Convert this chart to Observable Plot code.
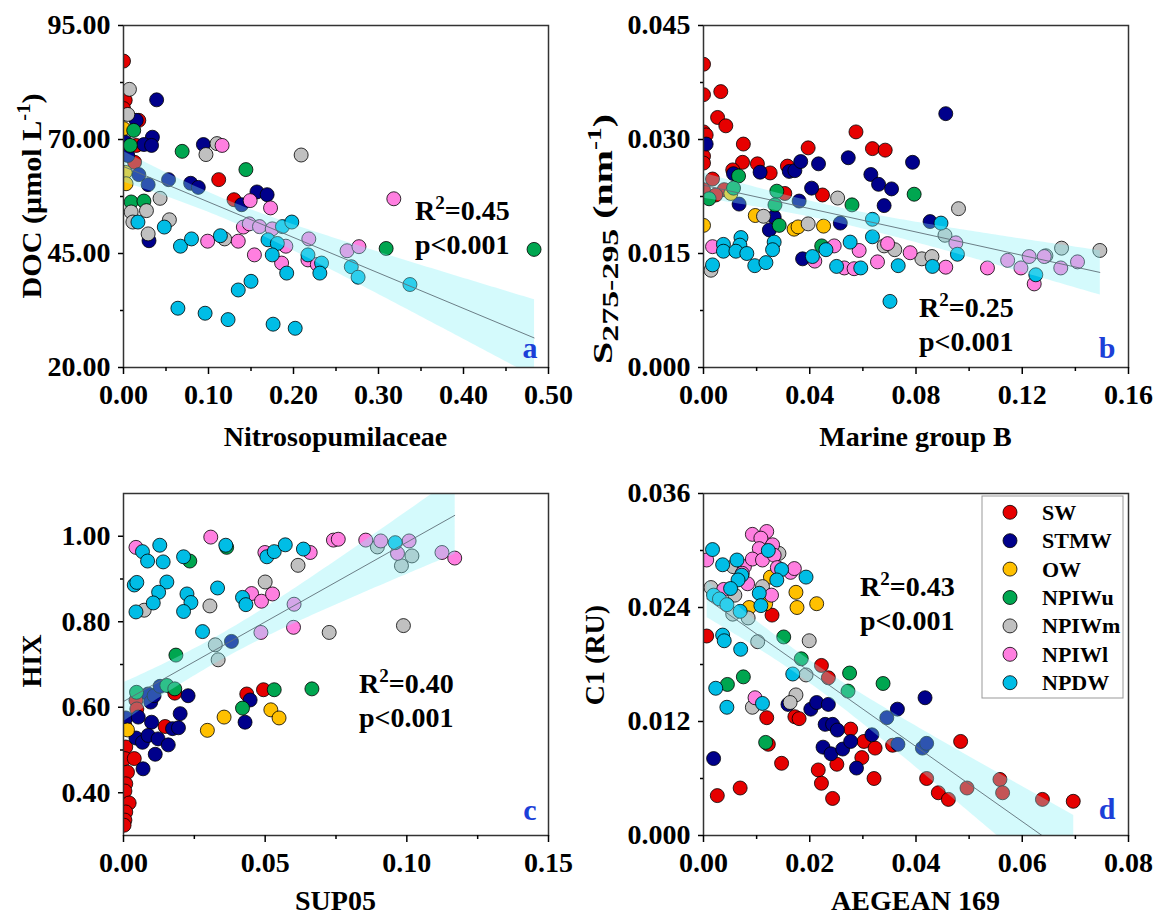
<!DOCTYPE html>
<html><head><meta charset="utf-8">
<script src="https://cdn.jsdelivr.net/npm/d3@7"></script>
<script src="https://cdn.jsdelivr.net/npm/@observablehq/plot@0.6"></script>
<style>
body{margin:0;background:#fff;}
#wrap{position:relative;width:1155px;height:917px;overflow:hidden;background:#fff;}
#wrap svg{position:absolute;overflow:visible;}
</style></head><body><div id="wrap"></div>
<script>
const FONT = "'Liberation Serif','Times New Roman',serif";
const groups = ["SW","STMW","OW","NPIWu","NPIWm","NPIWl","NPDW"];
const colors = ["#e60000","#00008b","#ffc000","#00a650","#c0c0c0","#ff7fe0","#00bde6"];

// ---- Panel a: Nitrosopumilaceae vs DOC ----
const A_SW = [[0,87.2],[0.002,78.6],[0,76.8],[0.018,74.2],[0.015,68.7],[0.013,65.0],[0.112,61.2],[0.13,56.8]];
const A_STMW = [[0.015,74.2],[0.034,70.5],[0.024,68.9],[0.033,68.7],[0.002,69.4],[0.005,66.5],[0.018,62.3],[0.029,60.1],[0.03,47.8],[0.053,61.2],[0.079,60.4],[0.088,59.5],[0.094,68.9],[0.139,55.7],[0.157,58.5],[0.169,57.9],[0.039,78.7]];
const A_OW = [[0,72.4],[0.002,62.8],[0.003,60.3]];
const A_NPIWu = [[0.012,72.0],[0.008,68.7],[0.009,56.3],[0.024,56.5],[0.069,67.4],[0.144,63.4],[0.309,46.1],[0.483,45.9]];
const A_NPIWm = [[0.007,81.0],[0.005,75.5],[0.043,57.1],[0.009,54.1],[0.027,54.4],[0.011,51.9],[0.054,52.4],[0.029,49.3],[0.097,66.7],[0.110,69.1],[0.119,48.2],[0.209,66.6]];
const A_NPIWl = [[0.116,68.7],[0.149,56.6],[0.173,55.0],[0.318,57.0],[0.141,50.8],[0.148,51.5],[0.16,50.9],[0.175,50.4],[0.099,47.7],[0.135,47.7],[0.154,44.7],[0.191,46.6],[0.218,48.2],[0.217,43.6],[0.186,42.9],[0.228,42.6],[0.263,45.6],[0.277,46.5]];
const A_NPDW = [[0.017,51.9],[0.048,50.8],[0.067,46.6],[0.08,48.2],[0.187,50.9],[0.198,51.9],[0.114,48.9],[0.17,48.0],[0.181,47.2],[0.175,44.7],[0.217,44.7],[0.192,40.7],[0.233,42.9],[0.231,40.7],[0.268,42.1],[0.276,39.8],[0.337,38.2],[0.150,38.9],[0.135,37.0],[0.064,33.0],[0.096,31.9],[0.123,30.5],[0.176,29.5],[0.202,28.6]];

// ---- Panel b: Marine group B vs S275-295 ----
const B_SW = [[0,0.0399],[0,0.0359],[0.0065,0.0363],[0.0053,0.0329],[0.0084,0.0318],[0,0.031],[0.001,0.0306],[0,0.0278],[0,0.0269],[0.015,0.0294],[0.0147,0.027],[0.011,0.026],[0.0203,0.0268],[0.0251,0.0256],[0.0394,0.0289],[0.0316,0.0265],[0.0574,0.031],[0.0636,0.0288],[0.0684,0.0286],[0.0034,0.0248],[0,0.0234],[0.0078,0.0234],[0.0046,0.0227],[0.0448,0.0227],[0.0306,0.0229]];
const B_STMW = [[0.001,0.0294],[0.0113,0.0255],[0.0213,0.0257],[0.0323,0.0258],[0.0344,0.0259],[0.0366,0.0271],[0.0433,0.0268],[0.0545,0.0276],[0.0787,0.027],[0.0912,0.0334],[0.063,0.0254],[0.0659,0.0241],[0.0708,0.0235],[0.068,0.0213],[0.0134,0.0215],[0.0407,0.0236],[0.036,0.0219],[0.0266,0.0198],[0.0248,0.0181],[0.0515,0.019],[0.0853,0.0192],[0.0373,0.0143]];
const B_OW = [[0.0103,0.0229],[0.0195,0.02],[0.0341,0.0182],[0.0356,0.0185],[0.0452,0.0186],[0,0.0187]];
const B_NPIWu = [[0.0132,0.0252],[0.0793,0.0228],[0.0021,0.0222],[0.0113,0.0236],[0.0276,0.0232],[0.0269,0.0214],[0.0559,0.0214],[0.0285,0.0187],[0.0445,0.016]];
const B_NPIWm = [[0.0505,0.0223],[0.0226,0.0199],[0.0394,0.0189],[0.096,0.0209],[0.0028,0.0128],[0.068,0.016],[0.072,0.0155],[0.0822,0.0143],[0.086,0.0146],[0.0909,0.0174],[0.1289,0.0147],[0.1348,0.0157],[0.1492,0.0154]];
const B_NPIWl = [[0.0034,0.0159],[0.0419,0.014],[0.0492,0.016],[0.053,0.0131],[0.0567,0.013],[0.0586,0.0154],[0.0693,0.0163],[0.0655,0.0139],[0.0778,0.0151],[0.0912,0.0132],[0.095,0.0164],[0.1069,0.0131],[0.1145,0.0141],[0.1195,0.0131],[0.1226,0.0146],[0.1283,0.0146],[0.1345,0.0131],[0.1408,0.0139],[0.1245,0.011]];
const B_NPDW = [[0.0075,0.0162],[0.0075,0.0153],[0.0141,0.0171],[0.0137,0.0161],[0.0122,0.0153],[0.0163,0.015],[0.0193,0.0134],[0.0235,0.0138],[0.0266,0.0165],[0.026,0.0155],[0.0034,0.0135],[0.041,0.0146],[0.0461,0.0155],[0.0501,0.0133],[0.0592,0.0131],[0.0552,0.0165],[0.0636,0.0172],[0.0733,0.0134],[0.0862,0.0133],[0.0956,0.0149],[0.0702,0.0087],[0.1251,0.0122],[0.0636,0.0195],[0.0894,0.019]];

// ---- Panel c: SUP05 vs HIX ----
const C_SW = [[0.0044,0.616],[0.0047,0.596],[0.0181,0.633],[0.0435,0.631],[0.0494,0.641],[0.0005,0.557],[0.0147,0.555],[0.0008,0.507],[0.0005,0.48],[0.0038,0.48],[0.0014,0.448],[0.0008,0.421],[0.0005,0.404],[0.002,0.376],[0.0008,0.355],[0.0005,0.336],[0.0002,0.324]];
const C_STMW = [[0.0381,0.754],[0.0087,0.631],[0.0096,0.612],[0.0108,0.627],[0.0129,0.649],[0.0228,0.627],[0.0447,0.617],[0.0429,0.565],[0.02,0.585],[0.0099,0.565],[0.0008,0.575],[0.0052,0.577],[0.0173,0.55],[0.0194,0.552],[0.0044,0.528],[0.0067,0.518],[0.0087,0.534],[0.0122,0.526],[0.0158,0.512],[0.0112,0.49],[0.0069,0.456]];
const C_OW = [[0.0355,0.577],[0.0296,0.546],[0.052,0.594],[0.0549,0.575],[0.0014,0.547]];
const C_NPIWu = [[0.0234,0.942],[0.0364,0.974],[0.0185,0.722],[0.0046,0.635],[0.0153,0.651],[0.0181,0.643],[0.0532,0.641],[0.0665,0.643],[0.042,0.598]];
const C_NPIWm = [[0.0616,0.932],[0.0896,0.975],[0.0981,0.931],[0.1018,0.954],[0.0073,0.827],[0.0305,0.837],[0.05,0.893],[0.0324,0.746],[0.0334,0.711],[0.0726,0.775],[0.0988,0.791]];
const C_NPIWl = [[0.0044,0.974],[0.0308,0.998],[0.0499,0.962],[0.0659,0.962],[0.0741,0.991],[0.0758,0.993],[0.0855,0.991],[0.0908,0.989],[0.0967,0.96],[0.1008,0.989],[0.1124,0.962],[0.1169,0.949],[0.0452,0.866],[0.0487,0.848],[0.0526,0.865],[0.0602,0.841],[0.0485,0.775],[0.06,0.787]];
const C_NPDW = [[0.0067,0.964],[0.0085,0.942],[0.0128,0.979],[0.014,0.94],[0.0212,0.952],[0.0361,0.979],[0.0506,0.952],[0.0532,0.964],[0.0571,0.98],[0.0635,0.97],[0.0959,0.985],[0.0038,0.886],[0.0047,0.892],[0.0153,0.893],[0.0124,0.869],[0.0105,0.844],[0.0044,0.823],[0.0224,0.865],[0.0238,0.845],[0.0212,0.824],[0.0332,0.879],[0.042,0.857],[0.0432,0.84],[0.0279,0.777]];

// ---- Panel d: AEGEAN 169 vs C1 ----
const D_SW = [[0.0129,0.0232],[0.0006,0.021],[0.0222,0.0179],[0.0235,0.0166],[0.0119,0.0124],[0.0172,0.0125],[0.018,0.0123],[0.0277,0.0112],[0.0302,0.0099],[0.0323,0.0092],[0.0298,0.0082],[0.0251,0.0075],[0.0216,0.0069],[0.0222,0.0055],[0.0243,0.0039],[0.0321,0.006],[0.0356,0.0095],[0.0484,0.0099],[0.042,0.006],[0.0442,0.0045],[0.0461,0.0038],[0.0496,0.005],[0.0558,0.0059],[0.0563,0.0045],[0.0638,0.0038],[0.0696,0.0036],[0.0147,0.0076],[0.0122,0.0096],[0.0069,0.005],[0.0026,0.0042]];
const D_STMW = [[0.0159,0.0138],[0.0202,0.0133],[0.0213,0.014],[0.0235,0.0138],[0.0229,0.0117],[0.0243,0.0117],[0.0252,0.0111],[0.0225,0.0093],[0.024,0.0086],[0.0262,0.0091],[0.0277,0.0099],[0.0288,0.0071],[0.0317,0.0106],[0.0345,0.0124],[0.0365,0.0133],[0.0366,0.0096],[0.0417,0.0145],[0.0412,0.0092],[0.042,0.0097],[0.0019,0.0081]];
const D_OW = [[0.0126,0.0272],[0.0117,0.0244],[0.0174,0.0256],[0.0176,0.024],[0.0213,0.0244],[0.0086,0.024]];
const D_NPIWu = [[0.0151,0.0209],[0.0184,0.0186],[0.0275,0.0171],[0.0272,0.0152],[0.0338,0.016],[0.0045,0.0159],[0.0075,0.0167],[0.0117,0.0098]];
const D_NPIWm = [[0.0056,0.0283],[0.0142,0.0297],[0.0111,0.0262],[0.0014,0.0261],[0.0059,0.0253],[0.0055,0.0233],[0.0084,0.0229],[0.0102,0.0204],[0.0199,0.0205],[0.0193,0.0169],[0.0092,0.0135],[0.0174,0.0148],[0.0163,0.014]];
const D_NPIWl = [[0.0006,0.029],[0.0077,0.0283],[0.0073,0.0276],[0.0083,0.0265],[0.0092,0.0317],[0.0119,0.032],[0.0108,0.0313],[0.013,0.0306],[0.0105,0.0302],[0.0092,0.0291],[0.0111,0.029],[0.0133,0.0295],[0.0139,0.0282],[0.0164,0.0277],[0.0171,0.0281],[0.0038,0.0259],[0.0128,0.0253],[0.0097,0.0145]];
const D_NPDW = [[0.0017,0.0301],[0.0036,0.0285],[0.0063,0.029],[0.0072,0.0274],[0.0065,0.0269],[0.0122,0.03],[0.0147,0.028],[0.0138,0.0269],[0.0193,0.0272],[0.0105,0.0255],[0.0108,0.0242],[0.0051,0.026],[0.0019,0.0253],[0.003,0.0249],[0.0044,0.0243],[0.0069,0.0236],[0.0036,0.0211],[0.0039,0.0205],[0.007,0.0196],[0.0168,0.017],[0.0023,0.0155],[0.0044,0.0135],[0.0111,0.0139]];

// axis ticks
const A_xTicks = [0,0.1,0.2,0.3,0.4,0.5], A_xMinor = [0.05,0.15,0.25,0.35,0.45];
const A_yTicks = [20,45,70,95], A_yMinor = [32.5,57.5,82.5];
const B_xTicks = [0,0.04,0.08,0.12,0.16], B_xMinor = [0.02,0.06,0.1,0.14];
const B_yTicks = [0,0.015,0.03,0.045], B_yMinor = [0.0075,0.0225,0.0375];
const C_xTicks = [0,0.05,0.1,0.15], C_xMinor = [0.025,0.075,0.125];
const C_yTicks = [0.4,0.6,0.8,1.0], C_yMinor = [0.5,0.7,0.9];
const D_xTicks = [0,0.02,0.04,0.06,0.08], D_xMinor = [0.01,0.03,0.05,0.07];
const D_yTicks = [0,0.012,0.024,0.036], D_yMinor = [0.006,0.018,0.03];

const r2Values = ["0.45","0.25","0.40","0.43"];

function build(sets){ return groups.flatMap((g,i)=> sets[i].map(([x,y])=>({x,y,g}))); }

function rich(sel, x, y, parts, {size=28, anchor="start", rotate=0, fill="#000", len=null, subScale=0.68}={}) {
  const t = sel.append("text")
    .attr("transform", `translate(${x},${y})` + (rotate ? ` rotate(${rotate})` : ""))
    .attr("text-anchor", anchor).attr("font-size", size).attr("font-weight","bold")
    .attr("fill", fill).attr("font-family", FONT);
  if (len) t.attr("textLength", len).attr("lengthAdjust","spacingAndGlyphs");
  let shift = 0;
  for (const p of parts) {
    const [txt, mode] = typeof p === "string" ? [p, null] : p;
    const ts = t.append("tspan").text(txt);
    const target = mode === "sup" ? -0.4*size : mode === "sub" ? 0.22*size : 0;
    if (target - shift !== 0) ts.attr("dy", target - shift);
    shift = target;
    if (mode === "sup") ts.attr("font-size", size*0.68);
    if (mode === "sub") ts.attr("font-size", size*subScale);
  }
  return t;
}

const wrap = document.getElementById("wrap");

function panel(cfg){
  const data = build(cfg.sets);
  const svg = Plot.plot({
    width: 575, height: 460,
    marginLeft: 123, marginRight: 27, marginTop: 25, marginBottom: 93,
    style: {fontFamily: FONT, fontSize: "28px", fontWeight: "bold", color: "#000", background: "transparent", overflow: "visible"},
    x: {domain: cfg.xDomain},
    y: {domain: cfg.yDomain},
    color: {domain: groups, range: colors},
    marks: [
      Plot.dot(data, {x:"x", y:"y", fill:"g", r:7, stroke:"#000", strokeWidth:0.8, clip:true}),
      Plot.linearRegressionY(data, {x:"x", y:"y", stroke:"#5f6f78", strokeWidth:0.9, fill:"#84f1f6", fillOpacity:0.35, clip:true}),
      Plot.frame({stroke:"#333", strokeWidth:1.5}),
      Plot.axisX(cfg.xTicks, {tickSize:7, tickPadding:10, tickFormat: d3.format(cfg.xFmt), label:null, strokeWidth:1.5}),
      Plot.axisX(cfg.xMinor, {tickSize:4, tickFormat: () => "", label:null, strokeWidth:1.5}),
      Plot.axisY(cfg.yTicks, {tickSize:5, tickPadding:8, tickFormat: d3.format(cfg.yFmt), label:null, strokeWidth:1.5}),
      Plot.axisY(cfg.yMinor, {tickSize:3, tickFormat: () => "", label:null, strokeWidth:1.5})
    ]
  });
  svg.style.left = cfg.left + "px";
  svg.style.top = cfg.top + "px";
  wrap.appendChild(svg);
  const s = d3.select(svg);
  rich(s, 335.5, cfg.xtY, [cfg.xTitle], {size:28, anchor:"middle"});
  rich(s, cfg.yt[0], cfg.yt[1], cfg.yTitle, {size:28, anchor:"middle", rotate:-90, len: cfg.yt[2], subScale: cfg.subScale || 0.68});
  rich(s, cfg.st[0], cfg.st[1], ["R", ["2","sup"], "=" + cfg.r2], {size:28});
  rich(s, cfg.st[0], cfg.st[1] + 34, ["p<0.001"], {size:28});
  rich(s, cfg.lt[0], cfg.lt[1], [cfg.letter], {size:30, anchor:"middle", fill:"#1c3fd8"});
  return s;
}

panel({sets:[A_SW,A_STMW,A_OW,A_NPIWu,A_NPIWm,A_NPIWl,A_NPDW], xDomain:[0,0.5], yDomain:[20,95],
  xTicks:A_xTicks, xMinor:A_xMinor, yTicks:A_yTicks, yMinor:A_yMinor, xFmt:".2f", yFmt:".2f",
  left:0, top:0, xTitle:"Nitrosopumilaceae", xtY:446, yTitle:["DOC (μmol L", ["-1","sup"], ")"], yt:[41,196,205],
  st:[415,220], r2:r2Values[0], lt:[530,358], letter:"a"});

panel({sets:[B_SW,B_STMW,B_OW,B_NPIWu,B_NPIWm,B_NPIWl,B_NPDW], xDomain:[0,0.16], yDomain:[0,0.045],
  xTicks:B_xTicks, xMinor:B_xMinor, yTicks:B_yTicks, yMinor:B_yMinor, xFmt:".2f", yFmt:".3f",
  left:580, top:0, xTitle:"Marine group B", xtY:446, yTitle:["S", ["275-295","sub"], " (nm", ["-1","sup"], ")"], yt:[32,239,250], subScale:0.85,
  st:[339,317], r2:r2Values[1], lt:[527,358], letter:"b"});

panel({sets:[C_SW,C_STMW,C_OW,C_NPIWu,C_NPIWm,C_NPIWl,C_NPDW], xDomain:[0,0.15], yDomain:[0.3,1.1],
  xTicks:C_xTicks, xMinor:C_xMinor, yTicks:C_yTicks, yMinor:C_yMinor, xFmt:".2f", yFmt:".2f",
  left:0, top:468, xTitle:"SUP05", xtY:442, yTitle:["HIX"], yt:[41,193,null],
  st:[359,225], r2:r2Values[2], lt:[530,352], letter:"c"});

const sd = panel({sets:[D_SW,D_STMW,D_OW,D_NPIWu,D_NPIWm,D_NPIWl,D_NPDW], xDomain:[0,0.08], yDomain:[0,0.036],
  xTicks:D_xTicks, xMinor:D_xMinor, yTicks:D_yTicks, yMinor:D_yMinor, xFmt:".2f", yFmt:".3f",
  left:580, top:468, xTitle:"AEGEAN 169", xtY:442, yTitle:["C1 (RU)"], yt:[24,187,null],
  st:[280,128], r2:r2Values[3], lt:[527,351], letter:"d"});

// legend (panel d)
const lg = sd.append("g");
lg.append("rect").attr("x",402).attr("y",28).attr("width",141).attr("height",202)
  .attr("fill","#fff").attr("stroke","#999").attr("stroke-width",1);
groups.forEach((g,i)=>{
  const cy = 44.3 + i*28.4;
  lg.append("circle").attr("cx",430).attr("cy",cy).attr("r",7).attr("fill",colors[i]).attr("stroke","#000").attr("stroke-width",0.8);
  lg.append("text").attr("x",462).attr("y",cy+7.5).attr("text-anchor","start").attr("font-size",22).attr("font-weight","bold")
    .attr("font-family",FONT).attr("fill","#000").text(g);
});
</script></body></html>
